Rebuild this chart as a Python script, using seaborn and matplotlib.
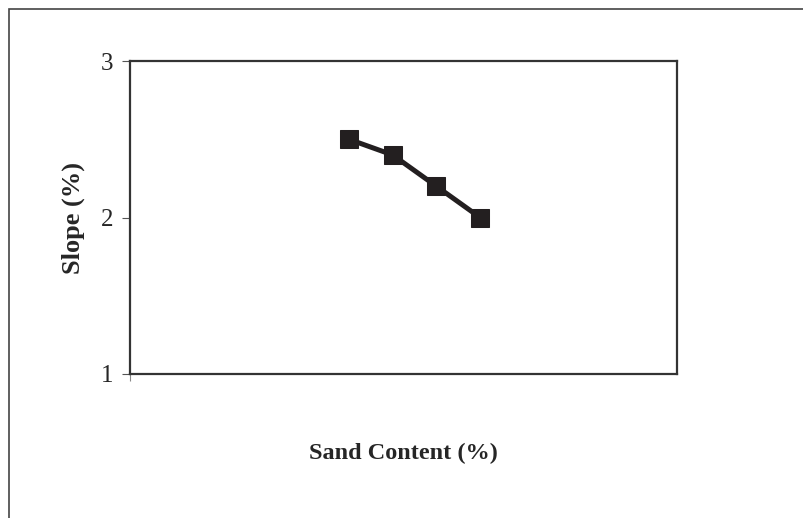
import matplotlib
matplotlib.use("Agg")
import matplotlib.pyplot as plt
import seaborn as sns
import pandas as pd
from matplotlib.patches import Rectangle

sand = [40, 48, 56, 64]
slope = [2.5, 2.4, 2.2, 2.0]
y_ticks = [1, 2, 3]

df = pd.DataFrame({"Sand Content (%)": sand, "Slope (%)": slope})

sns.set_style("white")
plt.rcParams["font.family"] = ["Liberation Serif", "DejaVu Serif"]

fig = plt.figure(figsize=(8.04, 5.18), dpi=100)
ax = fig.add_axes([130 / 804, 1 - 374 / 518, 547 / 804, 313 / 518])

ink = "#231f20"
sns.lineplot(data=df, x="Sand Content (%)", y="Slope (%)", ax=ax,
             color=ink, linewidth=3.6, marker="s", markersize=13,
             markeredgecolor=ink, markerfacecolor=ink)

ax.set_xlim(0, 100)
ax.set_ylim(1, 3)
ax.set_yticks(y_ticks)
ax.set_yticklabels([str(v) for v in y_ticks], fontsize=18)
ax.set_xticks([0])
ax.set_xticklabels([""])
ax.tick_params(axis="y", direction="out", length=6, width=0.8, color="#555555", pad=6, left=True)
ax.tick_params(axis="x", direction="out", length=5, width=0.8, color="#888888", bottom=True)

for s in ax.spines.values():
    s.set_color("#333333")
    s.set_linewidth(1.6)

ax.set_xlabel("Sand Content (%)", fontsize=17.5, fontweight="bold")
ax.set_ylabel("Slope (%)", fontsize=19, fontweight="bold")
ax.xaxis.set_label_coords(0.5, -0.22)
ax.yaxis.set_label_coords(-0.082, 0.5)

# outer frame of the scanned chart
fig.patches.append(Rectangle((9 / 804, -0.05), 1.2, 1 - 9 / 518 + 0.05,
                             transform=fig.transFigure, fill=False,
                             edgecolor="#444444", linewidth=1.2))

fig.savefig("out.png", dpi=100, facecolor="white")
